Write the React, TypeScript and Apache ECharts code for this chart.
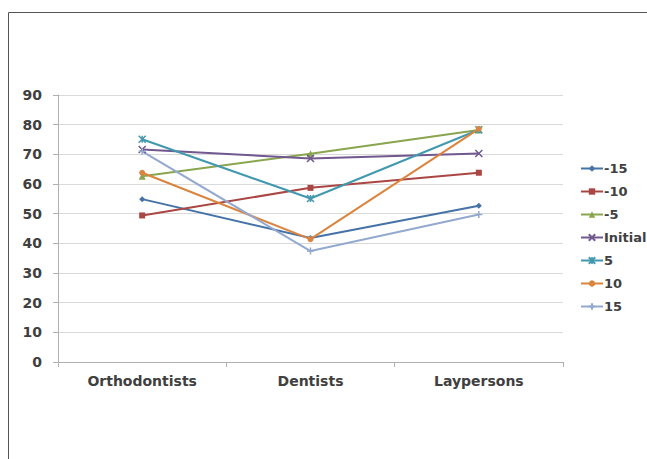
import React, { useEffect, useRef } from "react";
import * as echarts from "echarts";

const categories = ["Orthodontists", "Dentists", "Laypersons"];
const seriesNames = ["-15", "-10", "-5", "Initial", "5", "10", "15"];
const vMinus15 = [54.9, 41.8, 52.7];
const vMinus10 = [49.4, 58.7, 63.8];
const vMinus5 = [62.6, 70.2, 78.2];
const vInitial = [71.6, 68.6, 70.3];
const vPlus5 = [75.1, 55.1, 78.3];
const vPlus10 = [63.8, 41.4, 78.6];
const vPlus15 = [71.0, 37.4, 49.7];
const yTicks = [0, 10, 20, 30, 40, 50, 60, 70, 80, 90];

const values = [vMinus15, vMinus10, vMinus5, vInitial, vPlus5, vPlus10, vPlus15];
const colors = ["#4572A7", "#AA4643", "#89A54E", "#71588F", "#4198AF", "#DB843D", "#93A9CF"];
const symbols = ["diamond", "rect", "triangle", "path://M0,0L10,10M10,0L0,10", "path://M0,0L10,10M10,0L0,10M5,0L5,10", "circle", "path://M5,0L5,10M0,5L10,5"];
const sizes = [6, 6, 7, 7, 7, 6, 7];
const font = "DejaVu Sans";

export default function App() {
  const ref = useRef<HTMLDivElement>(null);
  useEffect(() => {
    document.body.style.margin = "0";
    const chart = echarts.init(ref.current!, null, { renderer: "svg" });
    chart.setOption({
      animation: false,
      backgroundColor: "#ffffff",
      graphic: [
        {
          type: "rect",
          shape: { x: 8.5, y: 12.5, width: 700, height: 500 },
          style: { fill: "none", stroke: "#555555", lineWidth: 1 },
          silent: true,
        },
      ],
      grid: { left: 58, right: 84, top: 95, bottom: 97 },
      legend: {
        orient: "vertical",
        left: 575,
        top: 156,
        itemGap: 8,
        itemWidth: 22,
        itemHeight: 8,
        data: seriesNames.map((name, i) => ({
          name,
          itemStyle: { color: colors[i], borderColor: colors[i] },
        })),
        textStyle: { fontFamily: font, fontSize: 13, fontWeight: "bold", color: "#404040", padding: [0, 0, 0, -4], lineHeight: 15 },
      },
      xAxis: {
        type: "category",
        data: categories,
        boundaryGap: true,
        axisLine: { lineStyle: { color: "#b0b0b0" } },
        axisTick: { show: true, length: 5, lineStyle: { color: "#b0b0b0" } },
        axisLabel: { fontFamily: font, fontSize: 14, fontWeight: "bold", color: "#404040", margin: 12 },
      },
      yAxis: {
        type: "value",
        min: yTicks[0],
        max: yTicks[yTicks.length - 1],
        interval: 10,
        axisLine: { show: true, lineStyle: { color: "#b0b0b0" } },
        axisTick: { show: true, length: 5, lineStyle: { color: "#b0b0b0" } },
        splitLine: { lineStyle: { color: "#d9d9d9" } },
        axisLabel: { fontFamily: font, fontSize: 14, fontWeight: "bold", color: "#404040", margin: 16 },
      },
      series: seriesNames.map((name, i) => ({
        name,
        type: "line",
        data: values[i],
        symbol: symbols[i],
        symbolSize: sizes[i],
        showAllSymbol: true,
        lineStyle: { width: 2, color: colors[i] },
        itemStyle: { color: colors[i], borderColor: colors[i], borderWidth: symbols[i].startsWith("path") ? 1.5 : 0 },
      })),
    });
    return () => chart.dispose();
  }, []);
  return <div ref={ref} style={{ width: 647, height: 459 }} />;
}
